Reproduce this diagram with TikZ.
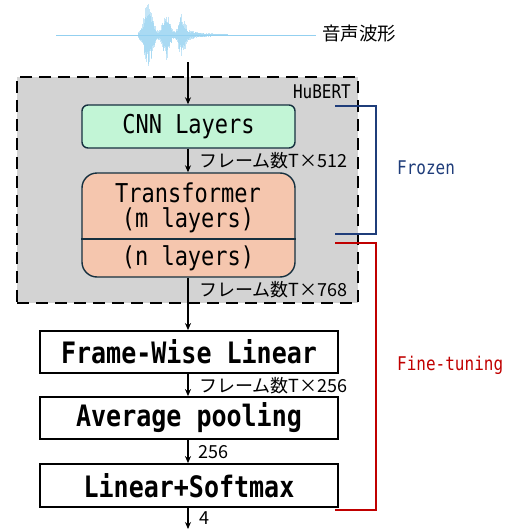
\documentclass[tikz,border=0pt]{standalone}
\usepackage{fontspec}
\usepackage{graphicx}
\usetikzlibrary{arrows.meta}
\newfontfamily\myjp{Noto Sans CJK JP}
\newfontfamily\mymono{DejaVu Sans Mono}
\newcommand{\tallt}[1]{\scalebox{1}[1.18]{#1}}
\definecolor{wavecol}{HTML}{93D0F0}
\definecolor{cnnfill}{HTML}{C2F5D6}
\definecolor{tffill}{HTML}{F5C6AE}
\definecolor{edgecol}{HTML}{16303F}
\definecolor{hubfill}{HTML}{D3D3D3}
\definecolor{frozencol}{HTML}{1F3D7A}
\definecolor{finecol}{HTML}{C00000}
\tikzset{
  flow/.style={-{Stealth[length=7pt,width=6pt]}, line width=1.4pt},
  hubbox/.style={draw, fill=hubfill, line width=1.8pt, dash pattern=on 12pt off 7pt},
  cnnbox/.style={draw=edgecol, fill=cnnfill, line width=1.4pt, rounded corners=6pt},
  tfbox/.style={draw=edgecol, fill=tffill, line width=1.4pt, rounded corners=15pt},
  headbox/.style={draw, line width=1.8pt, font=\mymono\bfseries\fontsize{25}{30}\selectfont},
  lbl/.style={anchor=west, inner sep=0pt, font=\myjp\fontsize{18}{20}\selectfont},
  boxtxt/.style={inner sep=0pt, font=\mymono\fontsize{22}{25}\selectfont},
  brk/.style={line width=1.5pt},
}
\begin{document}
\begin{tikzpicture}[x=1pt, y=-1pt]
\useasboundingbox (0,0) rectangle (515,530);

% speech waveform
\draw[wavecol, line width=0.6pt] (56,35) -- (316,35);
\pgfmathsetseed{7}
\foreach \i in {0,...,179}{
  \pgfmathsetmacro\xx{138+\i*0.5}
  \pgfmathsetmacro\env{31*exp(-((\xx-148)/6)^2)+24*exp(-((\xx-166)/5)^2)+21*exp(-((\xx-181)/4)^2)+(\xx>184)*6*exp(-(\xx-184)/12)+1}
  \pgfmathsetmacro\up{\env*(0.45+0.55*rnd)}
  \pgfmathsetmacro\dn{\env*(0.45+0.55*rnd)}
  \draw[wavecol, line width=0.45pt, opacity=0.55] (\xx,35-\up) -- (\xx,35+\dn);
}
\node[anchor=west, inner sep=0pt, font=\myjp\fontsize{18.5}{20}\selectfont] (wavlbl) at (322,34) {音声波形};
\coordinate (wav) at (188,62);

% HuBERT container
\node[hubbox, minimum width=341, minimum height=226, inner sep=0pt] (hub) at (187.5,190) {};
\node[anchor=east, inner sep=0pt, font=\mymono\fontsize{16}{18}\selectfont] (hublbl) at (351,92) {\tallt{HuBERT}};

% blocks
\node[cnnbox, minimum width=213, minimum height=43, inner sep=0pt] (cnn) at (188.5,126.5) {};
\node[boxtxt] (cnntxt) at (188.5,127) {\tallt{CNN Layers}};
\node[tfbox, minimum width=213, minimum height=104, inner sep=0pt] (tf) at (188.5,225) {};
\draw[edgecol, line width=1.4pt] (tf.west |- 0,239) -- (tf.east |- 0,239);
\node[boxtxt, align=center] (tfa) at (188,208) {\tallt{Transformer}\\\tallt{(m layers)}};
\node[boxtxt] (tfc) at (188,258) {\tallt{(n layers)}};

\node[headbox, minimum width=298, minimum height=42, inner sep=0pt] (fwl) at (189,352) {\tallt{Frame-Wise Linear}};
\node[headbox, minimum width=298, minimum height=42, inner sep=0pt] (ap) at (189,418) {\tallt{Average pooling}};
\node[headbox, minimum width=298, minimum height=43, inner sep=0pt] (ls) at (189,485.5) {\tallt{Linear+Softmax}};
\coordinate (out) at (188,529);

% data flow
\draw[flow] (wav) -- (wav |- cnn.north);
\draw[flow] (cnn.south -| wav) -- (tf.north -| wav);
\draw[flow] (tf.south -| wav) -- (fwl.north -| wav);
\draw[flow] (fwl.south -| wav) -- (ap.north -| wav);
\draw[flow] (ap.south -| wav) -- (ls.north -| wav);
\draw[flow] (ls.south -| wav) -- (out);

% tensor sizes
\node[lbl] (d512) at (199,161) {フレーム数T×512};
\node[lbl] (d768) at (199,290) {フレーム数T×768};
\node[lbl] (d256a) at (199,386) {フレーム数T×256};
\node[lbl] (d256b) at (198,452) {256};
\node[lbl] (d4) at (199,518) {4};

% frozen / fine-tuning brackets
\coordinate (fz1) at (335,106);
\coordinate (fz2) at (335,234);
\coordinate (ft1) at (335,243);
\coordinate (ft2) at (335,510);
\draw[brk, frozencol] (fz1) -- (376,106) -- (376,234) -- (fz2);
\draw[brk, finecol] (ft1) -- (376,243) -- (376,510) -- (ft2);
\node[anchor=west, inner sep=0pt, text=frozencol, font=\mymono\fontsize{16}{18}\selectfont] (frz) at (397,168) {\tallt{Frozen}};
\node[anchor=west, inner sep=0pt, text=finecol, font=\mymono\fontsize{16}{18}\selectfont] (fine) at (397,365) {\tallt{Fine-tuning}};
\end{tikzpicture}
\end{document}
